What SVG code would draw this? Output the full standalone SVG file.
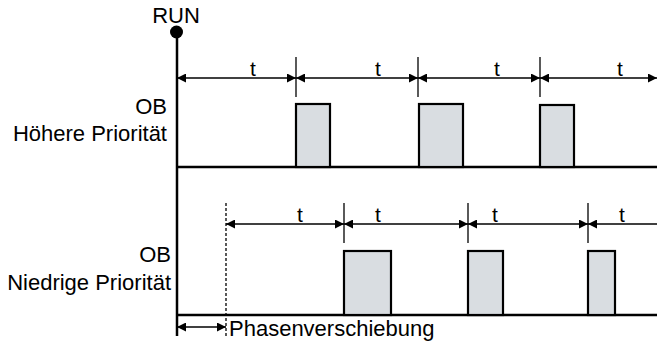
<svg xmlns="http://www.w3.org/2000/svg" width="657" height="343" viewBox="0 0 657 343">
<defs>
<marker id="ah" viewBox="0 0 10 10" refX="10" refY="5" markerUnits="userSpaceOnUse" markerWidth="9" markerHeight="9" orient="auto-start-reverse">
<path d="M0,0 L10,5 L0,10 z" fill="#000"/>
</marker>
<style>
.lbl{font-family:"Liberation Sans",Arial,sans-serif;font-size:22px;fill:#000}
.t{font-family:"Liberation Sans",Arial,sans-serif;font-size:21px;fill:#000;text-anchor:middle}
.axis{stroke:#000;stroke-width:2.5;fill:none}
.dim{stroke:#000;stroke-width:1.3;fill:none}
.tick{stroke:#000;stroke-width:1.3;fill:none}
.arr{stroke:#000;stroke-width:1.3;fill:none;marker-start:url(#ah);marker-end:url(#ah)}
.pulse{fill:#d9dde1;stroke:#000;stroke-width:2.2}
</style>
</defs>
<rect width="657" height="343" fill="#fff"/>

<g id="run">
<text class="lbl" x="176" y="23" text-anchor="middle">RUN</text>
<circle cx="176.5" cy="32" r="6.5" fill="#000"/>
</g>

<g id="axes">
<line class="axis" x1="177" y1="32" x2="177" y2="336"/>
<line class="axis" x1="177" y1="167" x2="657" y2="167"/>
<line class="axis" x1="177" y1="315" x2="657" y2="315"/>
</g>

<g id="label-high">
<text class="lbl" x="167" y="114" text-anchor="end">OB</text>
<text class="lbl" x="167" y="141" text-anchor="end">Höhere Priorität</text>
</g>
<g id="label-low">
<text class="lbl" x="171" y="262" text-anchor="end">OB</text>
<text class="lbl" x="171" y="290" text-anchor="end">Niedrige Priorität</text>
</g>

<g id="pulses-high">
<rect class="pulse" x="296" y="104" width="34" height="63"/>
<rect class="pulse" x="419" y="104" width="44" height="63"/>
<rect class="pulse" x="540" y="105" width="34" height="62"/>
</g>
<g id="pulses-low">
<rect class="pulse" x="344" y="251" width="47" height="64"/>
<rect class="pulse" x="468" y="251" width="35" height="64"/>
<rect class="pulse" x="588" y="251" width="27" height="64"/>
</g>

<g id="connectors">
<line class="tick" x1="296" y1="57" x2="296" y2="97"/>
<line class="tick" x1="418" y1="57" x2="418" y2="97"/>
<line class="tick" x1="540" y1="57" x2="540" y2="97"/>
<line class="arr" x1="177" y1="78" x2="296" y2="78"/>
<line class="arr" x1="296" y1="78" x2="418" y2="78"/>
<line class="arr" x1="418" y1="78" x2="540" y2="78"/>
<line class="arr" x1="540" y1="78" x2="657" y2="78"/>

<line class="tick" x1="226" y1="203" x2="226" y2="336" stroke-dasharray="3,2"/>
<line class="tick" x1="344" y1="203" x2="344" y2="243"/>
<line class="tick" x1="468" y1="203" x2="468" y2="243"/>
<line class="tick" x1="588" y1="203" x2="588" y2="243"/>
<line class="arr" x1="226" y1="224" x2="344" y2="224"/>
<line class="arr" x1="344" y1="224" x2="468" y2="224"/>
<line class="arr" x1="468" y1="224" x2="588" y2="224"/>
<line class="dim" x1="588" y1="224" x2="657" y2="224" style="marker-start:url(#ah)"/>

<line class="arr" x1="177" y1="327" x2="226" y2="327"/>
</g>

<g id="t-labels">
<text class="t" x="253" y="76">t</text>
<text class="t" x="378" y="76">t</text>
<text class="t" x="497" y="76">t</text>
<text class="t" x="620" y="76">t</text>
<text class="t" x="300" y="222">t</text>
<text class="t" x="378" y="222">t</text>
<text class="t" x="495" y="222">t</text>
<text class="t" x="622" y="222">t</text>
</g>

<g id="phase-label">
<text class="lbl" x="229" y="336">Phasenverschiebung</text>
</g>
</svg>
